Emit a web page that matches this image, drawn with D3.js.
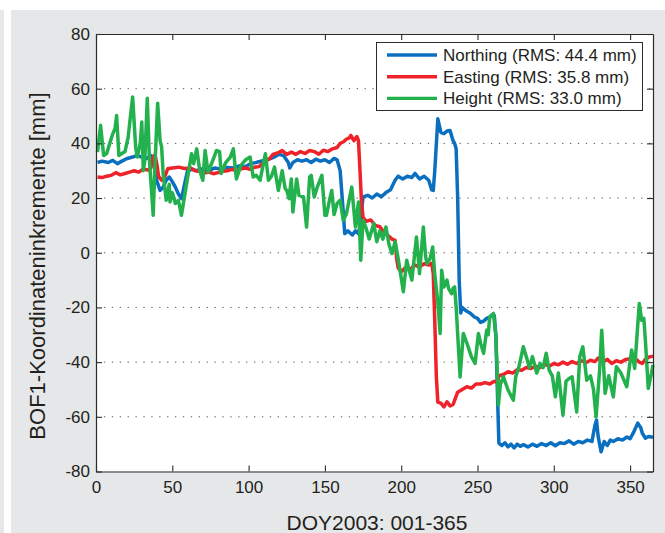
<!DOCTYPE html>
<html>
<head>
<meta charset="utf-8">
<script src="https://cdn.jsdelivr.net/npm/d3@7"></script>
<style>
  body { margin: 0; background: #fff; }
  svg text { font-family: "Liberation Sans", Arial, Helvetica, sans-serif; fill: #231f20; }
</style>
</head>
<body>
<div id="chart"></div>
<script>
const width = 665, height = 533;

// axis ticks
const xTicks = [0, 50, 100, 150, 200, 250, 300, 350];
const yTicks = [-80, -60, -40, -20, 0, 20, 40, 60, 80];
const gridTicks = [-60, -40, -20, 0, 20, 40, 60];

const seriesNames = ["Northing (RMS: 44.4 mm)", "Easting (RMS: 35.8 mm)", "Height (RMS: 33.0 mm)"];
const seriesColors = ["#0b6fc0", "#ee2228", "#23b14d"];

// [DOY, mm]
const northing = [[1,33],[4,33.5],[8,33],[11,33.8],[14,32.6],[17,33.5],[20,34.4],[24,35],[27,35.6],[30,35],[33,34.5],[36,35.5],[38,33],[40,26],[42,22.8],[44,24],[46,26.5],[48,27.7],[50,26],[52,24],[54,21.5],[56,19.8],[58,25],[60,30],[63,30.5],[66,30],[70,30.8],[74,30.2],[78,31],[82,30.5],[86,31.2],[90,31],[94,31.8],[98,31.5],[101,32.5],[105,33],[108,33.5],[112,34],[116,34.8],[120,36],[123,35.5],[126,33],[127,31],[129,33],[132,34],[135,33.5],[138,34],[141,33],[144,34.2],[147,33.5],[150,34],[153,33],[156,34.5],[158,34],[160,30],[162,15],[163,7],[165,8],[168,6.5],[170,8],[172,7],[173,10],[175,20.4],[178,21],[181,20],[184,21.5],[187,20.5],[190,22],[193,23],[196,26.5],[198,28],[201,27],[204,28],[207,27.5],[209,29],[212,27],[215,28],[218,26.5],[220,23],[221,22.8],[222,30],[224,49],[226,44],[228,43.6],[230,44.5],[232,44.7],[234,41],[235,40],[236,38],[237,20],[238,-10],[239,-22],[240,-20],[242,-21],[245,-22],[248,-23.5],[250,-24],[252,-25.5],[254,-25],[256,-24],[258,-23.5],[260,-22.8],[261,-23],[262,-30],[263,-50],[264,-69.6],[266,-70.5],[268,-69.5],[270,-71],[272,-70],[274,-71.4],[276,-70],[278,-70.8],[280,-70.2],[283,-71],[286,-70],[289,-70.8],[292,-69.8],[295,-70.5],[298,-69.5],[301,-70.6],[304,-69.5],[307,-69.8],[310,-68.8],[313,-70],[316,-69],[319,-69.5],[322,-68.5],[325,-69],[327,-63],[328,-61.2],[329,-67],[331,-72.8],[333,-69],[335,-70.5],[337,-68.5],[339,-69],[342,-68],[345,-68.5],[348,-67.4],[350,-68],[352,-66],[355,-62.3],[357,-64],[358,-66],[360,-67.8],[362,-67.2],[365,-67.5]];

const easting = [[1,27.7],[4,27.5],[7,28],[10,28.3],[13,29.3],[16,28.5],[19,29],[22,29.5],[25,30],[28,29.5],[31,30.7],[34,30.2],[36,31],[37,34],[38,35.5],[39,35],[40,32],[41,28],[43,26.5],[45,27.7],[47,30.7],[50,31],[54,31.3],[58,30.8],[62,31],[65,30],[68,29.8],[71,29.2],[74,29.5],[77,28.9],[80,29.3],[83,29.8],[86,30],[89,30.5],[92,30],[95,30.7],[98,31],[101,30.5],[104,31.3],[107,31.5],[109,32.6],[112,33.8],[114,34.5],[116,36],[119,36.5],[122,37.4],[125,36],[128,36.8],[131,36],[134,37],[137,36.3],[140,37.4],[143,37],[146,36],[149,37.5],[152,37],[155,38],[158,38.5],[160,40],[162,40.5],[164,41.5],[166,42],[167,42.9],[169,41],[171,42.5],[172,41],[173,30],[174,18],[175,13],[177,11.5],[180,12],[183,10],[186,9.5],[188,8],[191,6.5],[194,5],[196,4.5],[197,-2],[198,-5.5],[200,-7],[203,-5.3],[206,-6],[209,-4.5],[212,-5.3],[215,-4],[218,-4.5],[220,-3.9],[221,-7.6],[222,-25],[223,-45],[224,-54.6],[226,-55],[228,-56.4],[230,-54.5],[232,-56],[234,-55.5],[235,-54],[237,-51],[240,-50],[243,-49],[246,-49.5],[249,-48],[252,-48],[255,-47.5],[258,-48],[261,-47],[263,-47.5],[264,-45],[267,-44.5],[270,-43.5],[273,-44],[276,-42.8],[279,-43],[282,-42],[285,-42.3],[288,-41.5],[291,-42],[294,-40.8],[297,-41.5],[300,-40.5],[303,-41],[306,-40],[309,-40.8],[312,-39.8],[315,-40.5],[318,-39.5],[321,-40.2],[324,-39.3],[327,-39.8],[329,-38.5],[332,-40],[335,-39],[338,-40.5],[341,-39.5],[344,-40],[347,-39],[350,-38.8],[353,-38.5],[356,-40],[358,-40.5],[360,-39],[362,-38.2],[365,-37.8]];

const heightSeries = [[1,36.8],[3,46.6],[5,35.6],[7,36.3],[9,40],[11,43.5],[12.5,45.5],[13.5,50.2],[15,35.6],[17,36.3],[19,37],[21,42],[24,57],[26,38.6],[27,35],[29,40],[30,47.8],[31,30],[32,33.8],[33.6,56.5],[35,33.8],[37.5,13.7],[38.5,30],[40.4,54.7],[42,41],[43,38.7],[44,29],[46,19.2],[48,25],[48.5,18.6],[50,22],[52,18],[54,19.2],[56,13.7],[59,24],[62.6,36.2],[64,32.6],[66,38],[68,30],[70,26.5],[71.5,37.4],[73.4,29.5],[76,33],[79,37.4],[81,37],[82,29],[85,33],[88,35],[90,38],[92,27],[95,32],[98,34],[101,35],[103,27.7],[105,28.3],[107.5,26.5],[111,36.2],[113,26.5],[115,28],[117,31.3],[119.5,22.8],[122,30],[124,23.4],[125,22.8],[126.5,19.8],[128,27],[129,14.9],[131.5,27],[133,21],[136,20.4],[138,9.4],[140,27.7],[141,28.3],[143,20.4],[145,24],[148,28.3],[150,13.7],[151,13.7],[153,19.2],[154.5,22.8],[156,14],[158,18],[160,19.2],[162,11.9],[164,14],[167.6,24],[170,9.4],[172,18.6],[173.5,-2.7],[175,11.9],[177,9],[179,5],[182,10.7],[184,4],[186,8],[188,5],[190,9.4],[192,3],[194,-0.3],[196,4],[198,-2],[201.4,-14.3],[203.6,-2.7],[205,-6],[207,-10],[210,5.8],[212,-7.6],[214.5,9.4],[216,-1.5],[217,-4],[219,-2],[220.6,2.1],[222,-8],[224,-18],[225.5,-29.5],[226.5,-6.4],[228,-12.5],[230,-10],[231,-13],[233,-15],[234,-13],[235,-12.5],[236,-19.8],[238.6,-45.4],[240.7,-29.5],[243,-33],[246,-38],[248.4,-40.5],[250.6,-29.5],[252,-33],[254,-36.8],[256,-28.3],[257,-30],[258,-23.4],[260.4,-22.2],[262,-30],[263.7,-55.7],[265,-48],[267,-45.4],[270,-50.2],[273.5,-53.9],[275,-45.4],[277,-42],[280,-34.4],[282,-38],[284,-42],[286,-38],[288.8,-44],[291,-40.5],[293,-42],[295,-36.8],[297,-43],[299,-45],[301,-52.7],[303,-44],[306,-59.4],[308,-47],[310,-46],[312,-45.4],[315,-58.2],[317,-38],[319,-34.4],[321.6,-46.6],[324,-45],[326,-50],[327.7,-60],[330,-43],[331.4,-28.3],[333.6,-51.4],[336,-45],[339,-52.7],[341,-41.7],[344,-44],[347.8,-49],[351,-35.6],[353,-42.3],[356,-18.6],[357.6,-24.7],[359,-24],[360,-32],[361.9,-49.6],[364,-44],[365,-41]];

const allSeries = [northing, easting, heightSeries];

const plot = { left: 96, right: 653, top: 34, bottom: 471.5 };

const svg = d3.select("#chart").append("svg")
    .attr("width", width)
    .attr("height", height);

// grey page panel
svg.append("rect").attr("x", 11).attr("y", 10).attr("width", width - 11).attr("height", height - 10).attr("fill", "#e6e7e8");
svg.append("rect").attr("x", 0).attr("y", 10).attr("width", 4).attr("height", height - 10).attr("fill", "#e6e7e8");

const x = d3.scaleLinear().domain([0, 365]).range([plot.left, plot.right]);
const y = d3.scaleLinear().domain([-80, 80]).range([plot.bottom, plot.top]);

svg.append("rect")
    .attr("x", plot.left).attr("y", plot.top)
    .attr("width", plot.right - plot.left).attr("height", plot.bottom - plot.top)
    .attr("fill", "#fff");

// dotted grid
svg.append("g").selectAll("line")
    .data(gridTicks)
    .enter().append("line")
    .attr("x1", plot.left).attr("x2", plot.right)
    .attr("y1", d => y(d)).attr("y2", d => y(d))
    .attr("stroke", "#555")
    .attr("stroke-width", 1)
    .attr("stroke-dasharray", "1.3,6.6");

// lines
const line = d3.line().x(d => x(d[0])).y(d => y(d[1]));
svg.append("g").selectAll("path")
    .data(allSeries)
    .enter().append("path")
    .attr("d", line)
    .attr("fill", "none")
    .attr("stroke", (d, i) => seriesColors[i])
    .attr("stroke-width", 3.5)
    .attr("stroke-linejoin", "round");

// axes, ticks inside like matlab
function styleAxis(g) {
    g.selectAll("path.domain").attr("stroke", "#2b2b2b").attr("stroke-width", 1.2);
    g.selectAll(".tick line").attr("stroke", "#2b2b2b").attr("stroke-width", 1.1);
    g.selectAll(".tick text").style("font-size", "17px").attr("fill", "#231f20");
}

const plain = d => String(d); // hyphen minus, not unicode minus

svg.append("g")
    .attr("transform", `translate(0,${plot.bottom})`)
    .call(d3.axisBottom(x).tickValues(xTicks).tickFormat(plain).tickSizeInner(-6).tickSizeOuter(0).tickPadding(9))
    .call(styleAxis);

svg.append("g")
    .attr("transform", `translate(0,${plot.top})`)
    .call(d3.axisTop(x).tickValues(xTicks).tickSizeInner(-6).tickSizeOuter(0).tickFormat(""))
    .call(styleAxis);

svg.append("g")
    .attr("transform", `translate(${plot.left},0)`)
    .call(d3.axisLeft(y).tickValues(yTicks).tickFormat(plain).tickSizeInner(-6).tickSizeOuter(0).tickPadding(6))
    .call(styleAxis);

svg.append("g")
    .attr("transform", `translate(${plot.right},0)`)
    .call(d3.axisRight(y).tickValues(yTicks).tickSizeInner(-6).tickSizeOuter(0).tickFormat(""))
    .call(styleAxis);

svg.selectAll(".domain").attr("fill", "none");

// axis titles
svg.append("text")
    .attr("x", 377).attr("y", 530)
    .attr("text-anchor", "middle")
    .style("font-size", "21px")
    .text("DOY2003: 001-365");

svg.append("text")
    .attr("transform", "translate(45,266) rotate(-90)")
    .attr("text-anchor", "middle")
    .style("font-size", "22px")
    .text("BOF1-Koordinateninkremente [mm]");

// legend
const legend = svg.append("g");
legend.append("rect")
    .attr("x", 376.5).attr("y", 42.5)
    .attr("width", 266).attr("height", 68)
    .attr("fill", "#fff")
    .attr("stroke", "#2b2b2b")
    .attr("stroke-width", 1);

seriesNames.forEach((name, i) => {
    const cy = 55 + i * 21.7;
    legend.append("line")
        .attr("x1", 387).attr("x2", 437)
        .attr("y1", cy).attr("y2", cy)
        .attr("stroke", seriesColors[i])
        .attr("stroke-width", 3.4);
    legend.append("text")
        .attr("x", 443).attr("y", cy + 6)
        .style("font-size", "17px")
        .text(name);
});
</script>
</body>
</html>
